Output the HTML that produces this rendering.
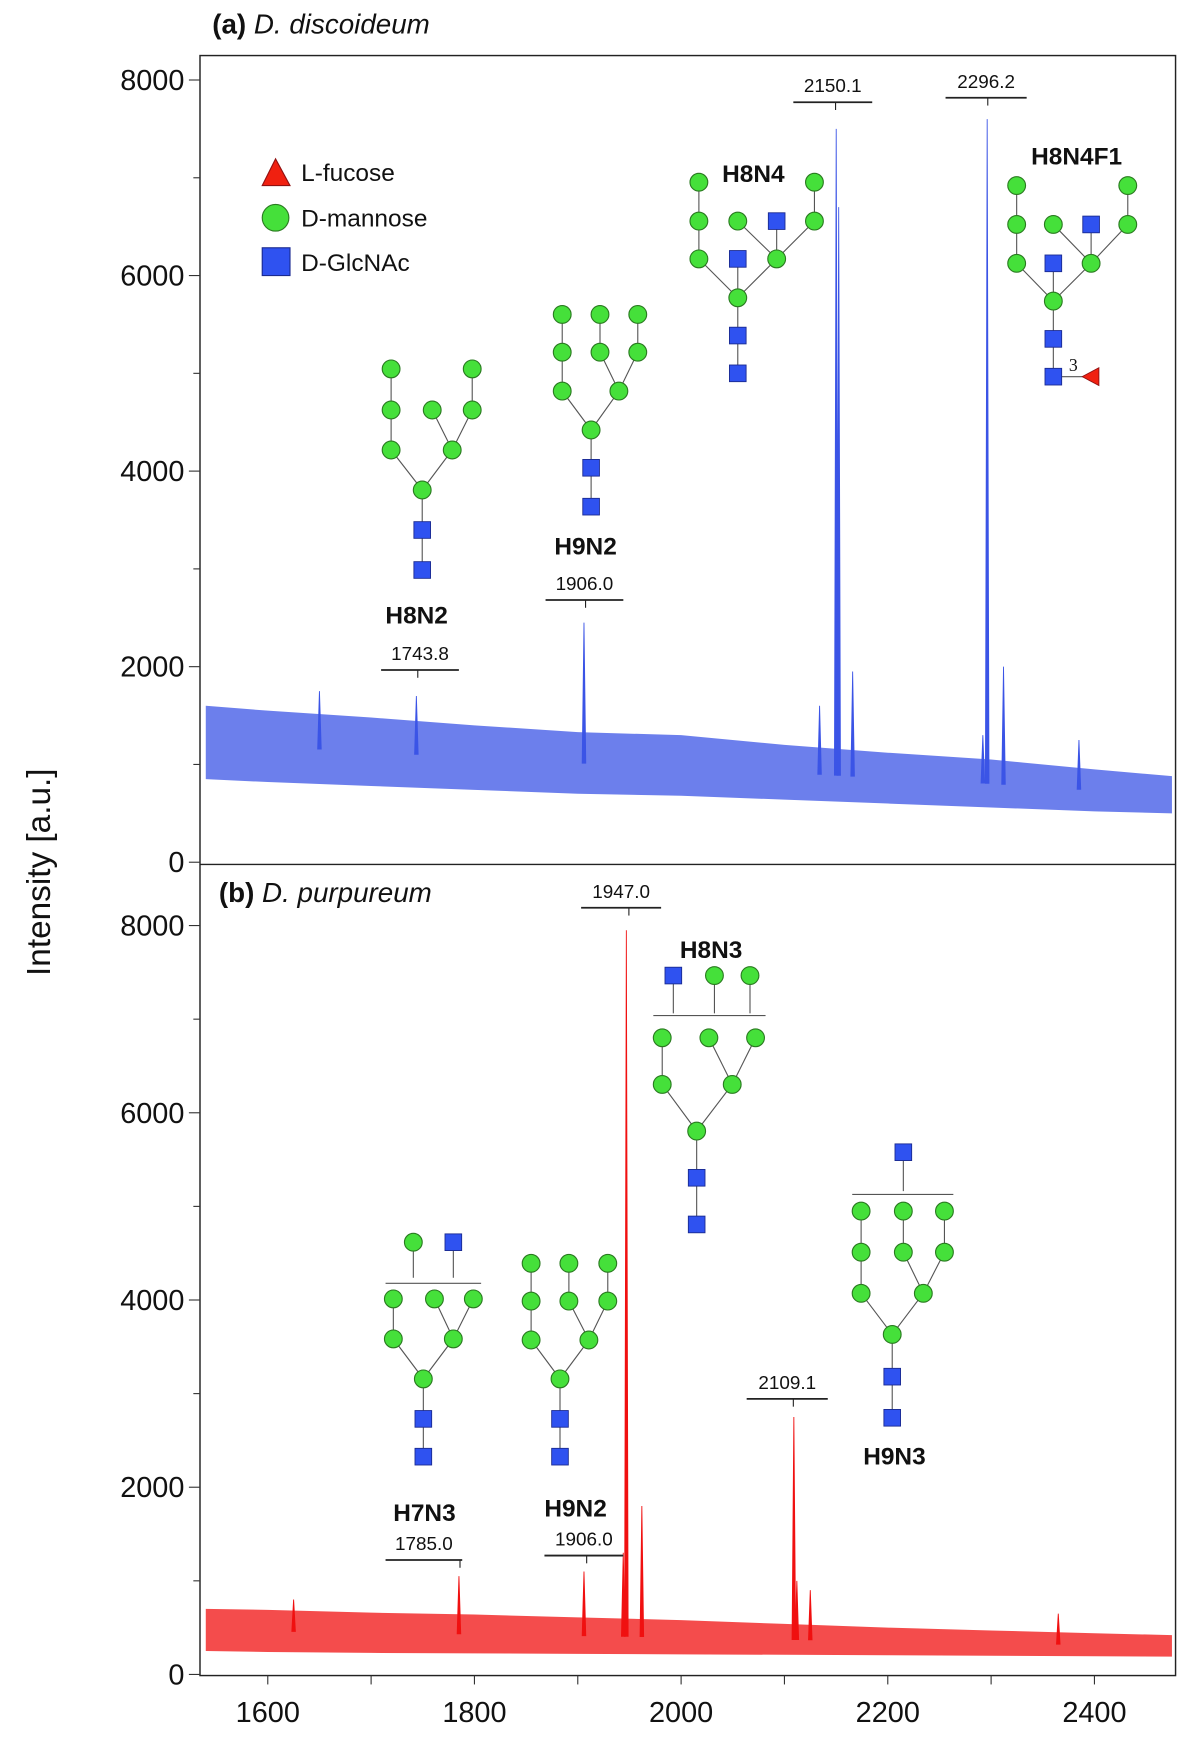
<!DOCTYPE html>
<html><head><meta charset="utf-8"><style>
html,body{margin:0;padding:0;background:#fff;}
svg{display:block;font-family:"Liberation Sans",sans-serif;}
</style></head><body>
<svg id="chart" width="1200" height="1737" viewBox="0 0 1080 1563.3" xmlns="http://www.w3.org/2000/svg">
<g id="g"></g>
</svg>
<script>
// ---- data ----
const xTicks = [1600, 1800, 2000, 2200, 2400];
const yTicks = [0, 2000, 4000, 6000, 8000];
const bandMzA = [1540, 1600, 1700, 1800, 1900, 2000, 2100, 2200, 2300, 2400, 2475];
const bandUpperA = [1600, 1550, 1480, 1400, 1330, 1300, 1200, 1120, 1050, 950, 880];
const bandLowerA = [850, 820, 780, 740, 700, 680, 640, 600, 560, 520, 500];
const peakMzA = [1650, 1743.8, 1906.0, 2134, 2150.1, 2152.5, 2166, 2292, 2296.2, 2312, 2385];
const peakIntA = [1750, 1700, 2450, 1600, 7500, 6700, 1950, 1300, 7600, 2000, 1250];
const bandMzB = [1540, 1600, 1700, 1800, 1900, 2000, 2100, 2200, 2300, 2400, 2475];
const bandUpperB = [700, 690, 660, 640, 610, 580, 540, 500, 470, 440, 420];
const bandLowerB = [250, 240, 230, 225, 220, 215, 210, 205, 200, 195, 190];
const peakMzB = [1625, 1785.0, 1906.0, 1944, 1947.0, 1962, 2109.1, 2112, 2125, 2365];
const peakIntB = [800, 1050, 1100, 1300, 7950, 1800, 2750, 1000, 900, 650];

const NS = "http://www.w3.org/2000/svg";
const G = document.getElementById('g');
function mk(tag, attrs, parent) {
  const e = document.createElementNS(NS, tag);
  for (const k in attrs) e.setAttribute(k, attrs[k]);
  (parent || G).appendChild(e);
  return e;
}
const X0 = 180, X1 = 1058;
function xs(v) { return 241 + (v - 1600) * 0.93; }
function ysA(v) { return 776 - v * 0.088; }
function ysB(v) { return 1507 - v * 0.08425; }

let e = mk('rect', {x: X0, y: 50, width: X1 - X0, height: 1458, fill: 'none', stroke: '#222', 'stroke-width': 1.3});


e = mk('line', {x1: X0, y1: 778, x2: X1, y2: 778, stroke: '#222', 'stroke-width': 1.3});



function yAxis(ys, name) {
  const ax = mk('g', {});
  
  
  for (let v = 0; v <= 8000; v += 1000) {
    mk('line', {x1: X0 - (v % 2000 ? 6 : 10), y1: ys(v), x2: X0, y2: ys(v), stroke: '#333', 'stroke-width': 1}, ax);
  }
  yTicks.forEach(v => {
    const t = mk('text', {x: 166, y: ys(v) + 9, 'text-anchor': 'end', 'font-size': 26, fill: '#111'}, ax);
    t.textContent = v;
    
    
  });
}
yAxis(ysA, 'y-axis-panel-a');
yAxis(ysB, 'y-axis-panel-b');

const xa = mk('g', {});


for (let v = 1600; v <= 2400; v += 100) {
  mk('line', {x1: xs(v), y1: 1508, x2: xs(v), y2: 1516, stroke: '#333'}, xa);
}
xTicks.forEach(v => {
  const t = mk('text', {x: xs(v), y: 1550, 'text-anchor': 'middle', 'font-size': 26, fill: '#111'}, xa);
  t.textContent = v;
  
  
});

e = mk('text', {x: 0, y: 0, 'font-size': 30, fill: '#111', 'text-anchor': 'middle', transform: 'translate(45,785) rotate(-90)'});
e.textContent = 'Intensity [a.u.]';



function title(x, y, a, b, name) {
  const t = mk('text', {x: x, y: y, 'font-size': 25, fill: '#111'});
  
  
  const s1 = mk('tspan', {'font-weight': 'bold'}, t); s1.textContent = a + ' ';
  const s2 = mk('tspan', {'font-style': 'italic'}, t); s2.textContent = b;
}
title(191, 30, '(a)', 'D. discoideum', 'panel-a-title');
title(197, 812, '(b)', 'D. purpureum', 'panel-b-title');

function spectrum(mzs, up, lo, pm, pi, ys, color, name) {
  const g = mk('g', {});
  
  
  let pts = [];
  mzs.forEach((m, i) => pts.push(xs(m) + ',' + ys(up[i])));
  for (let i = mzs.length - 1; i >= 0; i--) pts.push(xs(mzs[i]) + ',' + ys(lo[i]));
  const band = mk('polygon', {points: pts.join(' '), fill: color, 'fill-opacity': 0.75}, g);
  
  
  pm.forEach((m, i) => {
    const x = xs(m);
    let mid = 0;
    for (let j = 0; j < mzs.length - 1; j++) if (m >= mzs[j] && m <= mzs[j + 1]) {
      const f = (m - mzs[j]) / (mzs[j + 1] - mzs[j]);
      mid = (up[j] + lo[j]) / 2 * (1 - f) + (up[j + 1] + lo[j + 1]) / 2 * f;
    }
    const p = mk('polygon', {points: (x - 1.6) + ',' + ys(mid) + ' ' + x + ',' + ys(pi[i]) + ' ' + (x + 1.6) + ',' + ys(mid), fill: color, stroke: color, 'stroke-width': 0.8}, g);
    
    
  });
}
spectrum(bandMzA, bandUpperA, bandLowerA, peakMzA, peakIntA, ysA, '#3b54e6', 'spectrum-a');
spectrum(bandMzB, bandUpperB, bandLowerB, peakMzB, peakIntB, ysB, '#f01010', 'spectrum-b');

function bracket(cx, x1, x2, y, num, name) {
  const g = mk('g', {});
  
  
  mk('line', {x1: x1, y1: y, x2: x2, y2: y, stroke: '#222', 'stroke-width': 1.6}, g);
  mk('line', {x1: cx, y1: y, x2: cx, y2: y + 7, stroke: '#222', 'stroke-width': 1}, g);
  const t = mk('text', {x: (x1 + x2) / 2, y: y - 9, 'text-anchor': 'middle', 'font-size': 17, fill: '#111'}, g);
  t.textContent = num;
}
function label(x, y, s, name) {
  const t = mk('text', {x: x, y: y, 'text-anchor': 'middle', 'font-size': 22, 'font-weight': 'bold', fill: '#111'});
  t.textContent = s;
  
  
}
bracket(376, 343, 413, 603, '1743.8', 'peak-label-1743');
bracket(527, 491, 561, 540, '1906.0', 'peak-label-1906-a');
bracket(752, 714, 785, 92, '2150.1', 'peak-label-2150');
bracket(889, 851, 924, 88, '2296.2', 'peak-label-2296');
bracket(566, 523, 595, 817, '1947.0', 'peak-label-1947');
bracket(714, 672, 745, 1259, '2109.1', 'peak-label-2109');
bracket(414, 347, 416, 1404, '1785.0', 'peak-label-1785');
bracket(528, 490, 561, 1400, '1906.0', 'peak-label-1906-b');
label(375, 561, 'H8N2', 'glycan-label-h8n2');
label(527, 499, 'H9N2', 'glycan-label-h9n2-a');
label(678, 164, 'H8N4', 'glycan-label-h8n4');
label(969, 148, 'H8N4F1', 'glycan-label-h8n4f1');
label(640, 862, 'H8N3', 'glycan-label-h8n3');
label(805, 1318, 'H9N3', 'glycan-label-h9n3');
label(382, 1369, 'H7N3', 'glycan-label-h7n3');
label(518, 1365, 'H9N2', 'glycan-label-h9n2-b');

function ln(a, b, c, d, p) { mk('line', {x1: a, y1: b, x2: c, y2: d, stroke: '#555', 'stroke-width': 1}, p); }
function ci(x, y, p) { mk('circle', {cx: x, cy: y, r: 8, fill: '#45e03a', stroke: '#2a7a20', 'stroke-width': 1}, p); }
function sq(x, y, p) { mk('rect', {x: x - 7.5, y: y - 7.5, width: 15, height: 15, fill: '#2f52f0', stroke: '#1a2a90', 'stroke-width': 0.8}, p); }
function glycan(name, lines, circles, squares) {
  const g = mk('g', {});
  
  
  lines.forEach(l => ln(l[0], l[1], l[2], l[3], g));
  circles.forEach(c => ci(c[0], c[1], g));
  squares.forEach(s => sq(s[0], s[1], g));
  return g;
}
glycan('glycan-h8n2',
  [[352,332,352,405],[425,332,425,369],[425,369,407,405],[389,369,407,405],[352,405,380,441],[407,405,380,441],[380,441,380,513]],
  [[352,332],[425,332],[352,369],[389,369],[425,369],[352,405],[407,405],[380,441]],
  [[380,477],[380,513]]);
glycan('glycan-h9n2-a',
  [[506,283,506,352],[540,283,540,317],[574,283,574,317],[540,317,557,352],[574,317,557,352],[506,352,532,387],[557,352,532,387],[532,387,532,456]],
  [[506,283],[540,283],[574,283],[506,317],[540,317],[574,317],[506,352],[557,352],[532,387]],
  [[532,421],[532,456]]);
glycan('glycan-h8n4',
  [[629,164,629,233],[733,164,733,199],[733,199,699,233],[664,199,699,233],[699,199,699,233],[629,233,664,268],[699,233,664,268],[664,233,664,336]],
  [[629,164],[733,164],[629,199],[664,199],[733,199],[629,233],[699,233],[664,268]],
  [[699,199],[664,233],[664,302],[664,336]]);
const gf = glycan('glycan-h8n4f1',
  [[915,167,915,237],[1015,167,1015,202],[1015,202,982,237],[948,202,982,237],[982,202,982,237],[915,237,948,271],[982,237,948,271],[948,237,948,339],[948,339,975,339]],
  [[915,167],[1015,167],[915,202],[948,202],[1015,202],[915,237],[982,237],[948,271]],
  [[982,202],[948,237],[948,305],[948,339]]);
mk('polygon', {points: '974,339 989,331 989,347', fill: '#f02010', stroke: '#901010', 'stroke-width': 0.8}, gf);
const t3 = mk('text', {x: 962, y: 334, 'font-size': 16, 'font-family': 'Liberation Serif, serif', fill: '#111'}, gf);
t3.textContent = '3';

glycan('glycan-h8n3',
  [[606,878,606,912],[643,878,643,912],[675,878,675,912],[588,914,689,914],[596,934,596,976],[680,934,659,976],[638,934,659,976],[596,976,627,1018],[659,976,627,1018],[627,1018,627,1102]],
  [[643,878],[675,878],[596,934],[638,934],[680,934],[596,976],[659,976],[627,1018]],
  [[606,878],[627,1060],[627,1102]]);
glycan('glycan-h9n3',
  [[813,1037,813,1072],[767,1075,858,1075],[775,1090,775,1164],[813,1090,813,1127],[850,1090,850,1127],[813,1127,831,1164],[850,1127,831,1164],[775,1164,803,1201],[831,1164,803,1201],[803,1201,803,1276]],
  [[775,1090],[813,1090],[850,1090],[775,1127],[813,1127],[850,1127],[775,1164],[831,1164],[803,1201]],
  [[813,1037],[803,1239],[803,1276]]);
glycan('glycan-h7n3',
  [[372,1118,372,1150],[408,1118,408,1150],[347,1155,433,1155],[354,1169,354,1205],[391,1169,408,1205],[426,1169,408,1205],[354,1205,381,1241],[408,1205,381,1241],[381,1241,381,1311]],
  [[372,1118],[354,1169],[391,1169],[426,1169],[354,1205],[408,1205],[381,1241]],
  [[408,1118],[381,1277],[381,1311]]);
glycan('glycan-h9n2-b',
  [[478,1137,478,1206],[512,1137,512,1171],[547,1137,547,1171],[512,1171,530,1206],[547,1171,530,1206],[478,1206,504,1241],[530,1206,504,1241],[504,1241,504,1311]],
  [[478,1137],[512,1137],[547,1137],[478,1171],[512,1171],[547,1171],[478,1206],[530,1206],[504,1241]],
  [[504,1277],[504,1311]]);

const lg = mk('g', {});


mk('polygon', {points: '248,143 236,167 261,167', fill: '#f02010', stroke: '#901010'}, lg);
mk('circle', {cx: 248, cy: 196, r: 12, fill: '#45e03a', stroke: '#2a7a20'}, lg);
mk('rect', {x: 236, y: 223, width: 25, height: 25, fill: '#2f52f0', stroke: '#1a2a90'}, lg);
[['L-fucose', 163], ['D-mannose', 204], ['D-GlcNAc', 244]].forEach(d => {
  const t = mk('text', {x: 271, y: d[1], 'font-size': 22, fill: '#111'}, lg);
  t.textContent = d[0];
  
  
});
</script>
</body></html>
